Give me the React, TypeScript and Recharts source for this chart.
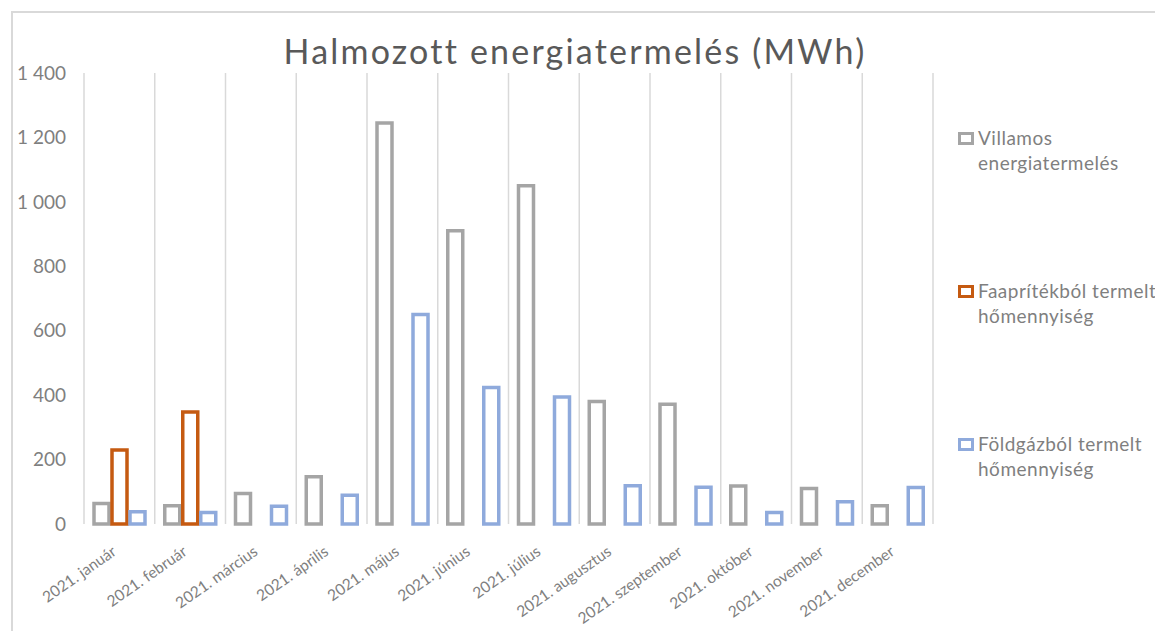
import React from "react";
import { BarChart, Bar, XAxis, YAxis, CartesianGrid, Legend } from "recharts";

// Havi adatok (MWh)
const months = [
  "2021. január",
  "2021. február",
  "2021. március",
  "2021. április",
  "2021. május",
  "2021. június",
  "2021. július",
  "2021. augusztus",
  "2021. szeptember",
  "2021. október",
  "2021. november",
  "2021. december",
];
const villamos = [64, 57, 95, 147, 1245, 910, 1050, 380, 372, 118, 110, 57];
const faapritek = [230, 348, null, null, null, null, null, null, null, null, null, null];
const foldgaz = [38, 36, 55, 89, 650, 424, 394, 119, 114, 36, 69, 113];
const yTicks = [0, 200, 400, 600, 800, 1000, 1200, 1400];

const seriesNames = [
  "Villamos energiatermelés",
  "Faaprítékból termelt hőmennyiség",
  "Földgázból termelt hőmennyiség",
];
const seriesColors = ["#a5a5a5", "#c55a11", "#8faadc"];

const rows = months.map((m, i) => ({
  month: m,
  villamos: villamos[i],
  faapritek: faapritek[i],
  foldgaz: foldgaz[i],
}));

const FONT = "Lato, 'Open Sans', sans-serif";
const GRAY_TEXT = "#7f7f7f";

const fmt = (v: number) =>
  v >= 1000 ? `${Math.floor(v / 1000)} ${String(v % 1000).padStart(3, "0")}` : String(v);

// rotated month label, text end sits just under the category centre
const MonthTick = (props: any) => {
  const { x, y, payload } = props;
  return (
    <g transform={`translate(${x - 2},${y + 30}) rotate(-35)`}>
      <text x={0} y={0} textAnchor="end" fill={GRAY_TEXT} fontSize={15.5} fontFamily={FONT}>
        {payload.value}
      </text>
    </g>
  );
};

const LegendBox = (props: any) => {
  const items = [...(props.payload || [])].sort(
    (a: any, b: any) => seriesNames.indexOf(a.value) - seriesNames.indexOf(b.value)
  );
  return (
    <div style={{ fontFamily: FONT }}>
      {items.map((p: any) => (
        <div
          key={p.value}
          style={{
            position: "relative",
            height: 50,
            marginBottom: 103,
            paddingLeft: 23,
            fontSize: 19,
            letterSpacing: 0.5,
            lineHeight: "25px",
            color: GRAY_TEXT,
            width: 205,
          }}
        >
          <span
            style={{
              position: "absolute",
              left: 3,
              top: 7,
              width: 10,
              height: 7,
              border: `3px solid ${seriesColors[seriesNames.indexOf(p.value)]}`,
              background: "#fff",
            }}
          />
          {p.value}
        </div>
      ))}
    </div>
  );
};

export default function App() {
  return (
    <div
      style={{
        position: "absolute",
        left: 0,
        top: 0,
        width: 1155,
        height: 631,
        overflow: "hidden",
        background: "#fff",
      }}
    >
      <div
        style={{
          position: "absolute",
          left: 11,
          top: 11,
          width: 1300,
          height: 800,
          borderTop: "2px solid #d9d9d9",
          borderLeft: "2px solid #d9d9d9",
        }}
      />
      <div
        style={{
          position: "absolute",
          left: 0,
          width: 1150,
          top: 31,
          textAlign: "center",
          fontFamily: FONT,
          fontSize: 34,
          letterSpacing: 2.2,
          color: "#595959",
          lineHeight: "40px",
        }}
      >
        Halmozott energiatermelés (MWh)
      </div>
      <div style={{ position: "absolute", left: 0, top: 0 }}>
        <BarChart
          width={1155}
          height={631}
          data={rows}
          margin={{ top: 73, right: 222, left: 0, bottom: 0 }}
          barSize={15}
          barGap={3}
        >
          <CartesianGrid
            horizontal={false}
            stroke="#d9d9d9"
            strokeWidth={1.5}
            verticalCoordinatesGenerator={({ offset }: any) =>
              months
                .map((_, i) => offset.left + (offset.width * i) / months.length)
                .concat(offset.left + offset.width)
            }
          />
          <XAxis
            dataKey="month"
            height={107}
            axisLine={false}
            tickLine={false}
            tickSize={0}
            tickMargin={0}
            interval={0}
            tick={<MonthTick />}
          />
          <YAxis
            width={84}
            domain={[0, 1400]}
            ticks={yTicks}
            axisLine={false}
            tickLine={false}
            tickSize={0}
            tickMargin={18}
            tickFormatter={fmt}
            tick={{ fill: GRAY_TEXT, fontSize: 19, fontFamily: FONT }}
          />
          <Legend
            layout="horizontal"
            align="center"
            verticalAlign="middle"
            content={<LegendBox />}
            wrapperStyle={{ left: 955, top: 125, width: 240, height: 460 }}
          />
          <Bar
            dataKey="villamos"
            name={seriesNames[0]}
            fill="#ffffff"
            stroke={seriesColors[0]}
            strokeWidth={3.5}
            isAnimationActive={false}
          />
          <Bar
            dataKey="faapritek"
            name={seriesNames[1]}
            fill="#ffffff"
            stroke={seriesColors[1]}
            strokeWidth={3.5}
            isAnimationActive={false}
          />
          <Bar
            dataKey="foldgaz"
            name={seriesNames[2]}
            fill="#ffffff"
            stroke={seriesColors[2]}
            strokeWidth={3.5}
            isAnimationActive={false}
          />
        </BarChart>
      </div>
    </div>
  );
}
